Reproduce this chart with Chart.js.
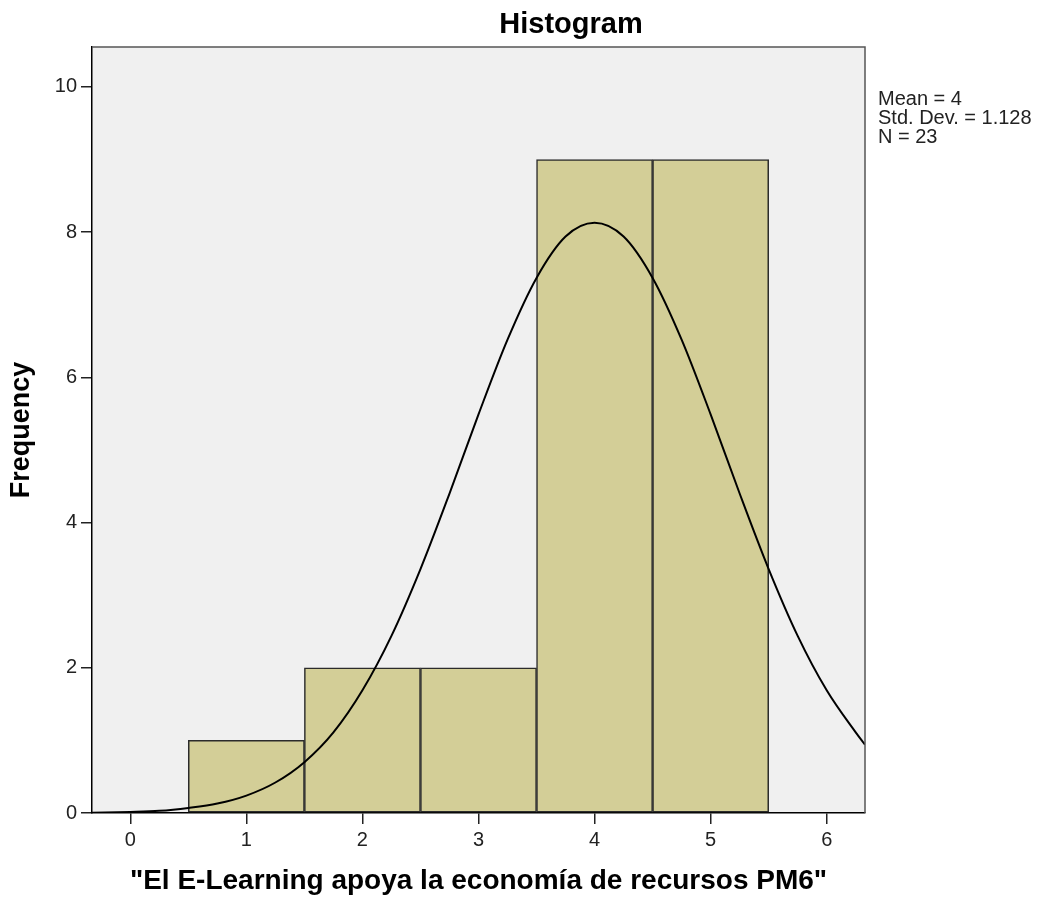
<!DOCTYPE html>
<html>
<head>
<meta charset="utf-8">
<script src="https://cdn.jsdelivr.net/npm/chart.js@4"></script>
<style>
  html, body { margin: 0; padding: 0; background: #fff; }
  #wrap { width: 1041px; height: 901px; }
</style>
</head>
<body>
<div id="wrap"><canvas id="histChart" width="1041" height="901"></canvas></div>
<script>
// histogram bins (centres) and frequencies
const binCenters = [1, 2, 3, 4, 5];
const frequencies = [1, 2, 2, 9, 9];

// normal curve
const curveX = [-0.33, 0, 0.25, 0.5, 0.75, 1, 1.25, 1.5, 1.75, 2, 2.25, 2.5, 2.75, 3, 3.25, 3.5, 3.75,
                4, 4.25, 4.5, 4.75, 5, 5.25, 5.5, 5.75, 6, 6.25, 6.33];
const curveY = [0.005, 0.015, 0.03, 0.07, 0.13, 0.24, 0.42, 0.70, 1.11, 1.69, 2.44, 3.36, 4.40, 5.49, 6.52, 7.37, 7.94,
                8.13, 7.94, 7.37, 6.52, 5.49, 4.40, 3.36, 2.44, 1.69, 1.11, 0.94];

const xTicks = [0, 1, 2, 3, 4, 5, 6];
const yTicks = [0, 2, 4, 6, 8, 10];
const statsLines = ['Mean = 4', 'Std. Dev. = 1.128', 'N = 23'];

const FONT = "'Liberation Sans', Arial, sans-serif";

// plot background, frame, title and the stats box
const frame = {
  id: 'frame',
  beforeDraw(chart) {
    const a = chart.chartArea, ctx = chart.ctx;
    ctx.save();
    ctx.fillStyle = '#f0f0f0';
    ctx.fillRect(a.left, a.top, a.right - a.left, a.bottom - a.top);
    ctx.restore();
  },
  afterDraw(chart) {
    const a = chart.chartArea, ctx = chart.ctx;
    ctx.save();
    ctx.strokeStyle = '#555';
    ctx.lineWidth = 1.5;
    ctx.beginPath();
    ctx.moveTo(a.left, a.top);
    ctx.lineTo(a.right, a.top);
    ctx.lineTo(a.right, a.bottom);
    ctx.stroke();

    ctx.fillStyle = '#000';
    ctx.font = 'bold 29px ' + FONT;
    ctx.textAlign = 'center';
    ctx.textBaseline = 'middle';
    ctx.fillText('Histogram', 571, 25);

    ctx.font = '20px ' + FONT;
    ctx.fillStyle = '#222';
    ctx.textAlign = 'left';
    statsLines.forEach((t, i) => ctx.fillText(t, a.right + 13, 99 + i * 19));
    ctx.restore();
  }
};

new Chart(document.getElementById('histChart'), {
  type: 'bar',
  data: {
    datasets: [
      {
        type: 'line',
        data: curveX.map((x, i) => ({ x: x, y: curveY[i] })),
        borderColor: '#000',
        borderWidth: 2,
        pointRadius: 0,
        cubicInterpolationMode: 'monotone',
        order: 1
      },
      {
        data: binCenters.map((x, i) => ({ x: x, y: frequencies[i] })),
        backgroundColor: '#d3ce97',
        borderColor: '#2b2b2b',
        borderWidth: 1.5,
        borderSkipped: false,
        barPercentage: 1,
        categoryPercentage: 1,
        order: 2
      }
    ]
  },
  options: {
    responsive: false,
    animation: false,
    layout: { padding: { top: 47, right: 176, left: 0, bottom: 0 } },
    plugins: {
      legend: { display: false },
      tooltip: { enabled: false },
      title: { display: false }
    },
    scales: {
      x: {
        type: 'linear',
        offset: false,
        min: -0.33,
        max: 6.33,
        afterBuildTicks: s => { s.ticks = xTicks.map(v => ({ value: v })); },
        afterFit: s => { s.height = 88; },
        grid: { offset: false, drawOnChartArea: false, drawTicks: true, tickLength: 11, color: '#222', lineWidth: 1.5 },
        border: { display: true, color: '#000', width: 1.5 },
        ticks: { color: '#222', font: { family: FONT, size: 20 }, padding: 4, maxRotation: 0 },
        title: {
          display: true,
          text: '"El E-Learning apoya la economía de recursos PM6"',
          color: '#000',
          font: { family: FONT, size: 28, weight: 'bold' },
          padding: { top: 0, bottom: 3 }
        }
      },
      y: {
        min: 0,
        max: 10.55,
        afterBuildTicks: s => { s.ticks = yTicks.map(v => ({ value: v })); },
        afterFit: s => { s.width = 92; },
        grid: { drawOnChartArea: false, drawTicks: true, tickLength: 11, color: '#222', lineWidth: 1.5 },
        border: { display: true, color: '#000', width: 1.5 },
        ticks: { color: '#222', font: { family: FONT, size: 20 }, padding: 4 },
        title: {
          display: true,
          text: 'Frequency',
          color: '#000',
          font: { family: FONT, size: 27, weight: 'bold' },
          padding: { top: 5, bottom: 0 }
        }
      }
    }
  },
  plugins: [frame]
});
</script>
</body>
</html>
